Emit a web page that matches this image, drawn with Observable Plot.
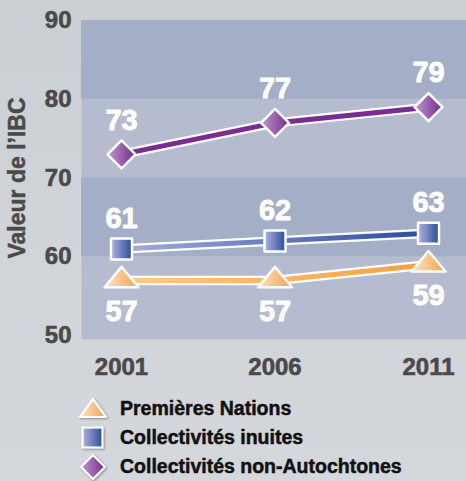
<!DOCTYPE html>
<html>
<head>
<meta charset="utf-8">
<script src="https://cdn.jsdelivr.net/npm/d3@7"></script>
<script src="https://cdn.jsdelivr.net/npm/@observablehq/plot@0.6"></script>
<style>
html, body { margin: 0; padding: 0; }
body {
  width: 466px; height: 481px; overflow: hidden;
  background: linear-gradient(180deg, #cacfd4 0%, #d0d4d9 45%, #d4d7db 100%);
  font-family: "Liberation Sans", Arial, sans-serif;
}
#chart svg { display: block; }
g[aria-label="markers"] { filter: drop-shadow(1.5px 2px 1.5px rgba(0,0,0,0.45)); }
g[aria-label="values"] { filter: drop-shadow(1px 2px 1px rgba(0,0,0,0.55)); }
#legend { padding-top: 14px; padding-left: 79px; }
.row { display: flex; align-items: center; height: 29px; }
.row svg { width: 28px; height: 26px; margin-right: 13px; overflow: visible; filter: drop-shadow(1px 1.5px 1px rgba(0,0,0,0.35)); }
.row span { font-size: 19.5px; font-weight: bold; color: #111; white-space: nowrap; -webkit-text-stroke: 0.5px #111; }
</style>
</head>
<body>
<div id="chart"></div>
<div id="legend"></div>
<script>
// ---- data ----
const years = [2001, 2006, 2011];
const seriesNames = ["Premières Nations", "Collectivités inuites", "Collectivités non-Autochtones"];
const premieresNations = [57, 57, 59];
const collectivitesInuites = [61, 62, 63];
const nonAutochtones = [73, 77, 79];
const yTicks = [50, 60, 70, 80, 90];
const yLabel = "Valeur de l’IBC";

// ---- styling ----
const seriesValues = [premieresNations, collectivitesInuites, nonAutochtones];
const markerFill = ["url(#gTri)", "url(#gSq)", "url(#gDia)"];
const lineStroke = ["url(#gLineO)", "url(#gLineB)", "#7b2c8f"];
const labelDy = [31, -30, -34];
const axisColor = "#4a4a4a";

const triSym = {draw(ctx, size) { const r = Math.sqrt(size / Math.PI), h = r * 1.2;
  ctx.moveTo(0, -2 * h / 3); ctx.lineTo(r, h / 3); ctx.lineTo(-r, h / 3); ctx.closePath(); }};
const sqSym = {draw(ctx, size) { const r = Math.sqrt(size / Math.PI);
  ctx.moveTo(-r, -r); ctx.lineTo(r, -r); ctx.lineTo(r, r); ctx.lineTo(-r, r); ctx.closePath(); }};
const diaSym = {draw(ctx, size) { const r = Math.sqrt(size / Math.PI);
  ctx.moveTo(0, -r); ctx.lineTo(r, 0); ctx.lineTo(0, r); ctx.lineTo(-r, 0); ctx.closePath(); }};
const symbols = [triSym, sqSym, diaSym];
const radii = [17, 10.5, 14];

const rows = [];
seriesNames.forEach((s, i) => years.forEach((yr, j) => rows.push({series: s, idx: i, year: yr, value: seriesValues[i][j]})));

const darkBands = [];
for (let i = 1; i + 1 < yTicks.length; i += 2) darkBands.push({lo: yTicks[i], hi: yTicks[i + 1]});

const marks = [
  Plot.frame({fill: "#b6bcd0", stroke: null}),
  Plot.rect(darkBands, {y1: "lo", y2: "hi", fill: "#a4aec7"})
];
seriesNames.forEach((s, i) => {
  const d = rows.filter(r => r.idx === i);
  marks.push(Plot.line(d, {x: "year", y: "value", stroke: "white", strokeWidth: 9.5}));
  marks.push(Plot.line(d, {x: "year", y: "value", stroke: lineStroke[i], strokeWidth: 5}));
});
seriesNames.forEach((s, i) => {
  const d = rows.filter(r => r.idx === i);
  marks.push(Plot.dot(d, {x: "year", y: "value", symbol: symbols[i], r: radii[i], fill: markerFill[i],
    stroke: "white", strokeWidth: 2.5, strokeLinejoin: "round", ariaLabel: "markers"}));
});
seriesNames.forEach((s, i) => {
  const d = rows.filter(r => r.idx === i);
  marks.push(Plot.text(d, {x: "year", y: "value", text: r => String(r.value), dy: labelDy[i],
    fill: "white", stroke: "white", strokeWidth: 0.9, fontSize: 29, fontWeight: "bold", ariaLabel: "values"}));
});
marks.push(Plot.axisY({ticks: yTicks, tickSize: 0, tickPadding: 10, fontSize: 24, fontWeight: "bold", color: axisColor, label: null}));
marks.push(Plot.axisX({ticks: years, tickFormat: d => String(d), tickSize: 0, tickPadding: 18, fontSize: 24, fontWeight: "bold", color: axisColor, label: null}));
marks.push(Plot.text([yLabel], {text: d => d, frameAnchor: "left", textAnchor: "middle", rotate: -90, dx: -64, dy: -2,
  fontSize: 23, fontWeight: "bold", fill: axisColor, stroke: axisColor, strokeWidth: 0.5}));

const chart = Plot.plot({
  width: 466, height: 380,
  marginLeft: 81, marginRight: 0, marginTop: 20, marginBottom: 41,
  style: {background: "transparent", fontFamily: '"Liberation Sans", Arial, sans-serif'},
  x: {domain: [years[0], years[years.length - 1]], insetLeft: 40, insetRight: 38},
  y: {domain: [49.5, 90]},
  marks
});
document.getElementById("chart").appendChild(chart);
d3.select(chart).selectAll('g[aria-label="y-axis tick label"] text, g[aria-label="x-axis tick label"] text')
  .attr("stroke", axisColor).attr("stroke-width", 0.6);

d3.select(chart).insert("defs", ":first-child").html(`
  <linearGradient id="gTri" x1="0" y1="0" x2="1" y2="0"><stop offset="0" stop-color="#fde6c6"/><stop offset="1" stop-color="#f4a04a"/></linearGradient>
  <linearGradient id="gSq" x1="0" y1="0" x2="1" y2="0"><stop offset="0" stop-color="#aeb4df"/><stop offset="1" stop-color="#2c4b9c"/></linearGradient>
  <linearGradient id="gDia" x1="0" y1="0" x2="1" y2="0"><stop offset="0" stop-color="#bc9acd"/><stop offset="1" stop-color="#77288b"/></linearGradient>
  <linearGradient id="gLineO" x1="0" y1="0" x2="1" y2="0"><stop offset="0" stop-color="#fcca8e"/><stop offset="1" stop-color="#f4a03e"/></linearGradient>
  <linearGradient id="gLineB" x1="0" y1="0" x2="1" y2="0"><stop offset="0" stop-color="#a7acdc"/><stop offset="1" stop-color="#2a4a9d"/></linearGradient>
`);

// ---- legend ----
const icons = [
  `<polygon points="14,3 27,21 1,21" fill="url(#gTri)" stroke="white" stroke-width="2.2" stroke-linejoin="round"/>`,
  `<rect x="3.5" y="2.5" width="20" height="20" fill="url(#gSq)" stroke="white" stroke-width="2.2"/>`,
  `<polygon points="14,1 26,13 14,25 2,13" fill="url(#gDia)" stroke="white" stroke-width="2.2" stroke-linejoin="round"/>`
];
const legend = d3.select("#legend");
seriesNames.forEach((s, i) => {
  const row = legend.append("div").attr("class", "row");
  row.append("svg").attr("viewBox", "0 0 28 26").html(icons[i]);
  row.append("span").text(s);
});
</script>
</body>
</html>
